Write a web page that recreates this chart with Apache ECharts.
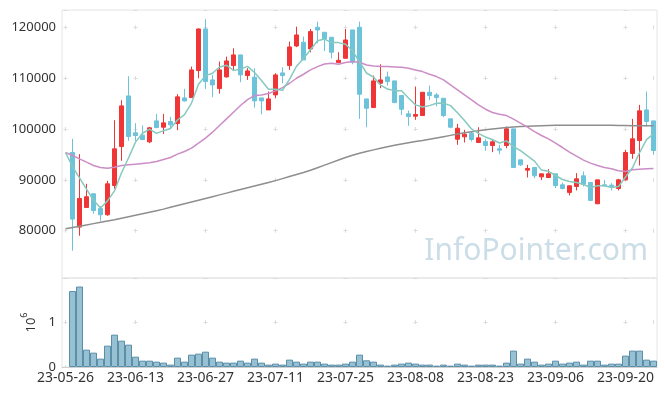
<!DOCTYPE html>
<html>
<head>
<meta charset="utf-8">
<script src="https://cdn.jsdelivr.net/npm/echarts@6/dist/echarts.min.js"></script>
<style>
html,body{margin:0;padding:0;background:#fff;}
#chart{width:665px;height:396px;}
</style>
</head>
<body>
<div id="chart"></div>
<script>
const dates = ['23-05-26','23-05-30','23-05-31','23-06-01','23-06-02','23-06-05','23-06-07','23-06-08','23-06-09','23-06-12',
'23-06-13','23-06-14','23-06-15','23-06-16','23-06-19','23-06-20','23-06-21','23-06-22','23-06-23','23-06-26',
'23-06-27','23-06-28','23-06-29','23-06-30','23-07-03','23-07-04','23-07-05','23-07-06','23-07-07','23-07-10',
'23-07-11','23-07-12','23-07-13','23-07-14','23-07-17','23-07-18','23-07-19','23-07-20','23-07-21','23-07-24',
'23-07-25','23-07-26','23-07-27','23-07-28','23-07-31','23-08-01','23-08-02','23-08-03','23-08-04','23-08-07',
'23-08-08','23-08-09','23-08-10','23-08-11','23-08-14','23-08-16','23-08-17','23-08-18','23-08-21','23-08-22',
'23-08-23','23-08-24','23-08-25','23-08-28','23-08-29','23-08-30','23-08-31','23-09-01','23-09-04','23-09-05',
'23-09-06','23-09-07','23-09-08','23-09-11','23-09-12','23-09-13','23-09-14','23-09-15','23-09-18','23-09-19',
'23-09-20','23-09-21','23-09-22','23-09-25','23-09-26'];

const openP = [null,95380,80720,84580,87270,84380,83140,88900,96560,106510,
99250,98790,97480,101600,100360,101470,101080,106120,106190,111490,
119670,109660,107950,110250,112470,114570,110510,110180,106120,103760,
106710,111030,112470,116330,117050,115740,120000,119020,118040,113060,
113910,119480,120000,105920,104220,109000,110250,109460,106580,102980,
102520,102650,107230,106710,106050,102000,98000,98460,99180,97350,
97540,96760,96100,96760,100030,93940,91910,92440,90600,90470,
91190,89030,87530,88710,90800,89490,85300,89030,88970,88310,
90010,95190,97740,103760,101600];

const closeP = [null,82290,86350,86680,83990,83140,89230,96100,104550,98530,
98720,97940,100230,100290,101210,100820,106320,105530,111620,119670,
109330,108670,111620,113390,114570,110640,111420,105530,105530,105920,
110640,110510,116140,118490,113580,119150,119480,117710,115090,113520,
117510,113130,106840,104090,109460,109660,109330,105200,103890,102450,
102850,107230,106580,106190,102650,100360,100160,98980,97940,98260,
96760,97480,95840,100030,92440,92960,92240,90800,91190,91190,
88900,88310,88840,90210,89160,85960,90010,88840,88640,90010,
95380,98070,103570,101470,95780];

const lowP = [null,76070,79020,84500,83340,81960,82940,88250,93750,97670,
97670,97810,97220,100160,99050,99970,99770,105400,106100,109980,
107890,106250,106970,110100,111620,109200,109660,104220,102910,103760,
106050,109000,111620,116100,113580,115090,116860,115350,113910,113060,
113910,112730,102000,100360,104220,108020,108540,105070,102780,100620,
101800,102650,105660,104480,102320,100160,96890,97350,97540,97350,
95710,95450,95060,96230,92440,92760,90470,90340,89950,90470,
88380,88120,86940,87920,88710,85960,85300,88710,87920,87920,
89900,94140,92830,100490,94930];

const highP = [null,98070,95060,89230,87270,84840,89820,101730,105660,110380,
101140,100690,100420,102980,102980,102390,106840,107890,112270,119800,
121570,110640,113260,114240,115880,114570,111950,111950,106120,107360,
110970,112140,117180,120130,118170,119670,121110,119020,118040,115090,
119670,119480,121110,105920,110510,112730,111290,109460,106580,103630,
108350,107230,108540,107100,106050,102000,101010,99840,99510,100360,
98070,98070,96890,100490,100030,93940,92960,92440,91190,92110,
91190,89490,88840,91320,91650,89490,90010,90010,89360,90210,
95910,102000,104750,107360,101600];

const volume = [null,1690000,1790000,386000,319000,186000,475000,719000,586000,497000,
230000,141000,141000,119000,97000,53000,208000,119000,275000,297000,
341000,208000,119000,97000,97000,141000,97000,186000,97000,53000,
75000,53000,164000,119000,75000,119000,119000,75000,53000,53000,
75000,119000,275000,149000,119000,53000,30000,53000,75000,97000,
75000,53000,53000,30000,53000,30000,75000,53000,30000,53000,
53000,53000,30000,97000,364000,75000,186000,119000,53000,75000,
141000,75000,97000,119000,53000,141000,141000,53000,75000,75000,
253000,364000,364000,164000,141000];

const ma5 = [95380,92600,90400,88200,86000,84489,85877,87828,91402,94309,
97426,99167,99992,99141,99678,100097,101773,102833,105099,108791,
110493,110965,112182,112536,111515,111776,112326,111109,109538,107809,
107809,107626,109747,112340,113872,115574,117368,117682,117001,116988,
116661,115390,113217,111017,110205,108634,107874,107547,107508,106107,
104745,104326,104601,105059,105098,104601,103187,101668,100018,99141,
98421,97884,97255,97674,96509,95749,94702,93694,91926,91677,
90865,90080,89687,89491,89085,88495,88836,88836,88521,88692,
90577,92388,95334,97901,99053];

const ma20 = [95383,94794,94139,93485,92830,92437,92306,92502,92830,92961,
93092,93223,93354,93616,94008,94401,95056,95580,96234,97216,
98198,99376,100686,101995,103305,104614,105793,106578,106709,106971,
107495,108149,109001,109983,110768,111619,112274,112798,112929,112732,
113060,113256,113125,112601,112405,112274,112274,112209,112143,111947,
111619,111292,110768,110310,109655,108673,107691,106709,105727,104745,
103894,103239,102912,102650,101930,101145,100359,99507,98722,98067,
97216,96365,95448,94663,93877,93288,92830,92437,92175,91782,
91651,91978,92109,92175,92240];

const ma60 = [80400,80650,80900,81150,81400,81650,81900,82150,82450,82750,
83050,83350,83650,83950,84250,84600,84950,85300,85650,86000,
86350,86700,87050,87400,87750,88100,88450,88800,89150,89500,
89850,90250,90650,91050,91450,91900,92400,92900,93400,93900,
94400,94850,95250,95600,95900,96200,96500,96800,97050,97300,
97550,97750,98000,98250,98500,98750,99000,99250,99450,99650,
99850,100000,100150,100300,100400,100500,100550,100600,100650,100700,
100720,100740,100750,100760,100760,100760,100750,100740,100720,100700,
100680,100660,100650,100650,100650];

const candleData = dates.map((d, i) => openP[i] == null ? '-' : [openP[i], closeP[i], lowP[i], highP[i]]);
const volData = volume.map(v => v == null ? '-' : v);

const FONT = 'Noto Sans';
const crossColor = '#dcdcdc';
const frameColor = '#e4e4e4';

const chart = echarts.init(document.getElementById('chart'), null, {renderer: 'canvas'});
chart.setOption({
  animation: false,
  backgroundColor: '#ffffff',
  textStyle: {fontFamily: FONT},
  graphic: [{
    type: 'text', right: 17, top: 236, z: 0,
    style: {text: 'InfoPointer.com', font: '30px "Noto Sans"', fill: '#cbdde7'}
  }],
  grid: [
    {left: 62, right: 8, top: 10, height: 268, show: true, borderColor: frameColor, borderWidth: 1, backgroundColor: 'transparent'},
    {left: 62, right: 8, top: 278, height: 89, show: true, borderColor: frameColor, borderWidth: 1, backgroundColor: 'transparent'},
    {left: 65.5, right: 11.5, top: 10, height: 268, show: false},
    {left: 65.5, right: 11.5, top: 278, height: 89, show: false}
  ],
  xAxis: [
    {type: 'category', gridIndex: 0, data: dates, boundaryGap: true,
     axisLine: {show: false}, axisTick: {show: false}, axisLabel: {show: false}, splitLine: {show: false}},
    {type: 'category', gridIndex: 1, data: dates, boundaryGap: true,
     axisLine: {show: true, lineStyle: {color: '#d0d0d0'}}, axisTick: {show: false},
     axisLabel: {interval: 9, color: '#333', fontSize: 14, fontFamily: FONT, margin: 4},
     splitLine: {show: false}},
    {type: 'value', gridIndex: 2, min: 0, max: 84, interval: 10,
     axisLine: {show: false}, axisTick: {show: false}, axisLabel: {show: false},
     splitLine: {show: true, lineStyle: {color: crossColor, width: 1, type: [4, 46.86], dashOffset: 35.56}}},
    {type: 'value', gridIndex: 3, min: 0, max: 84, interval: 10,
     axisLine: {show: false}, axisTick: {show: false}, axisLabel: {show: false},
     splitLine: {show: true, lineStyle: {color: crossColor, width: 1, type: [4, 41], dashOffset: 2.9}}}
  ],
  yAxis: [
    {type: 'value', gridIndex: 0, min: 70710, max: 123400, scale: true,
     axisLine: {show: false}, axisTick: {show: false},
     axisLabel: {color: '#333', fontSize: 13, fontFamily: FONT, margin: 6, showMinLabel: false, showMaxLabel: false,
       formatter: v => String(v)},
     splitLine: {show: true, lineStyle: {color: crossColor, width: 1, type: [4, 66], dashOffset: 68.5}}},
    {type: 'value', gridIndex: 1, min: 0, max: 1980000, interval: 1000000,
     axisLine: {show: false}, axisTick: {show: false},
     axisLabel: {color: '#333', fontSize: 13, fontFamily: FONT, margin: 6, showMaxLabel: false,
       formatter: v => String(v / 1000000)},
     splitLine: {show: true, lineStyle: {color: crossColor, width: 1, type: [4, 66], dashOffset: 68.5}},
     name: '{a|10}{b|6}', nameLocation: 'middle', nameRotate: 90, nameGap: 22,
     nameTextStyle: {color: '#333', fontFamily: FONT,
       rich: {a: {fontSize: 13, fontFamily: FONT, color: '#333', verticalAlign: 'bottom', lineHeight: 18},
              b: {fontSize: 9, fontFamily: FONT, color: '#333', verticalAlign: 'top', lineHeight: 18}}}},
    {type: 'value', gridIndex: 2, show: false},
    {type: 'value', gridIndex: 3, show: false}
  ],
  series: [
    {type: 'bar', xAxisIndex: 1, yAxisIndex: 1, data: volData, barWidth: '100%', barCategoryGap: 0,
     itemStyle: {color: '#98c0d3', borderColor: '#5a8fa9', borderWidth: 1}, z: 2},
    {type: 'candlestick', xAxisIndex: 0, yAxisIndex: 0, data: candleData, barWidth: 5,
     itemStyle: {color: '#ef3535', color0: '#6cc3da', borderColor: '#ef3535', borderColor0: '#6cc3da', borderWidth: 1}, z: 2},
    {type: 'line', xAxisIndex: 0, yAxisIndex: 0, data: ma60, showSymbol: false, symbol: 'none',
     lineStyle: {color: '#8e8e8e', width: 1.5}, z: 3},
    {type: 'line', xAxisIndex: 0, yAxisIndex: 0, data: ma20, showSymbol: false, symbol: 'none',
     lineStyle: {color: '#cc8dc6', width: 1.5}, z: 3},
    {type: 'line', xAxisIndex: 0, yAxisIndex: 0, data: ma5, showSymbol: false, symbol: 'none',
     lineStyle: {color: '#86c9bf', width: 1.5}, z: 3}
  ]
});
</script>
</body>
</html>
